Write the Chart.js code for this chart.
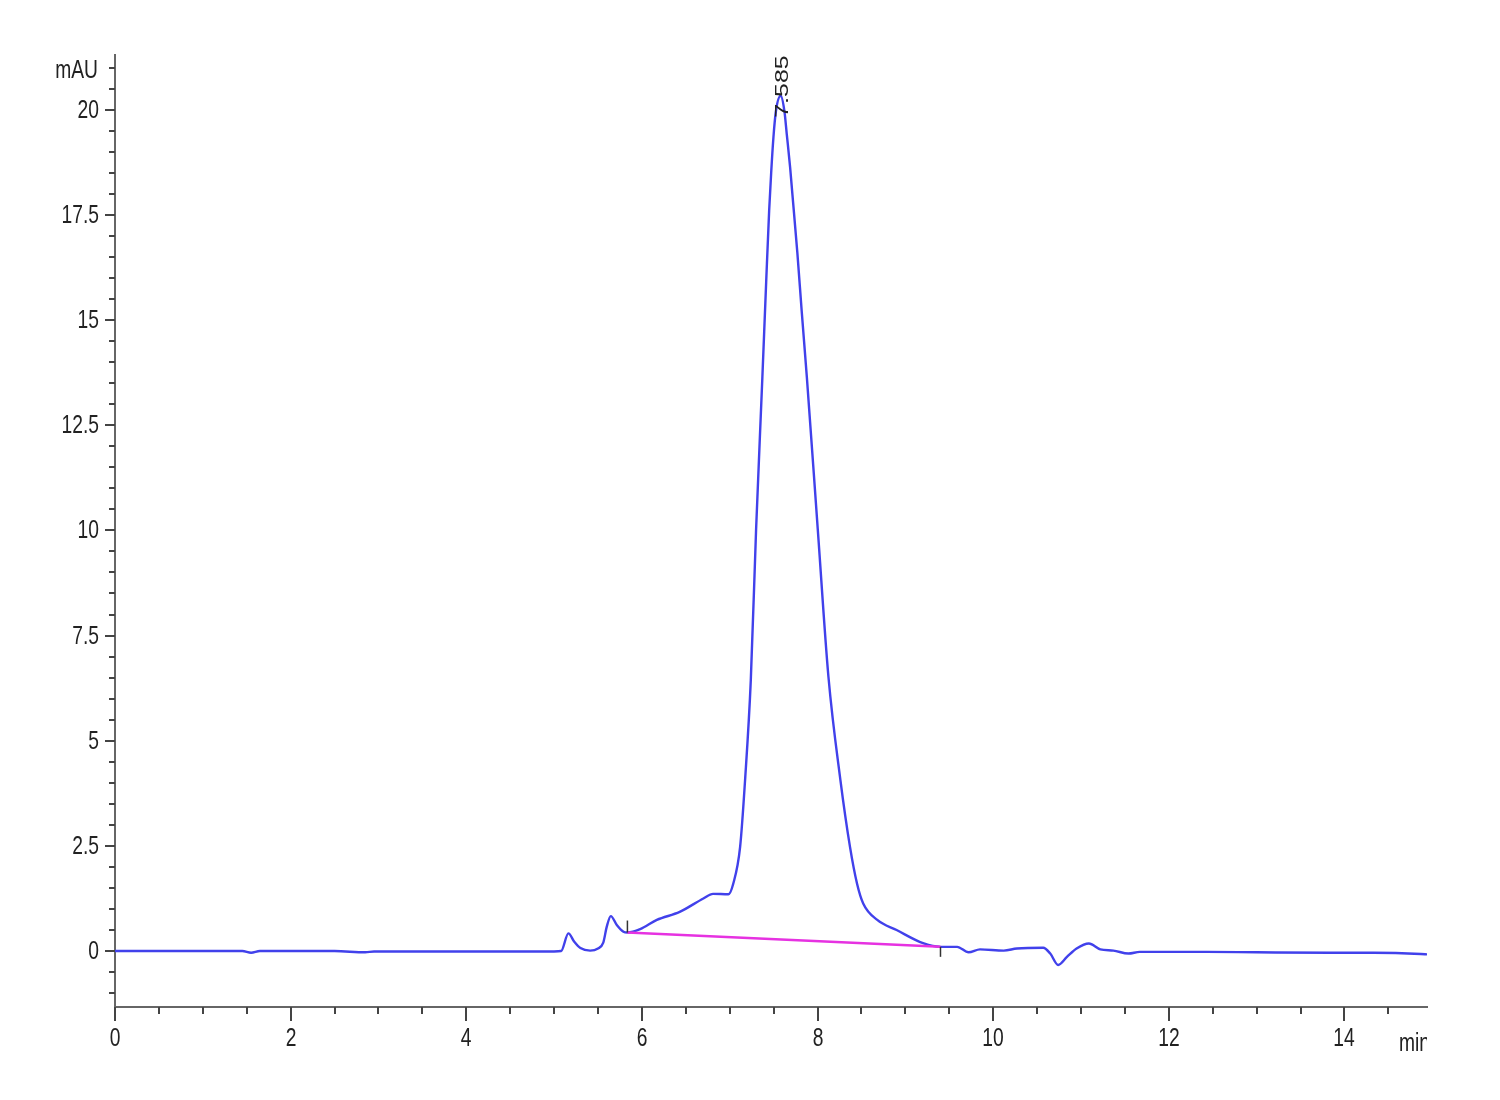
<!DOCTYPE html>
<html>
<head>
<meta charset="utf-8">
<script src="https://cdn.jsdelivr.net/npm/chart.js@4/dist/chart.umd.min.js"></script>
<style>
  body { margin: 0; background: #fff; }
  canvas { display: block; }
</style>
</head>
<body>
<canvas id="chromCanvas" width="1500" height="1100"></canvas>
<script>
// retention time (min) and absorbance (mAU)
const times = [0, 0.5, 1.0, 1.45, 1.55, 1.65, 2.0, 2.5, 2.85, 2.95, 3.5, 4.0, 4.5, 5.0, 5.08,
  5.163, 5.23, 5.30, 5.41, 5.50, 5.56, 5.60, 5.646, 5.714, 5.79, 5.835, 5.98, 6.17, 6.43,
  6.70, 6.81, 6.985, 7.04, 7.118, 7.175, 7.24, 7.30, 7.372, 7.415, 7.449, 7.472, 7.498,
  7.525, 7.58, 7.623, 7.65, 7.688, 7.714, 7.77, 7.82, 7.878, 8.003, 8.124, 8.26, 8.37,
  8.45, 8.52, 8.68, 8.90, 9.21, 9.40, 9.59, 9.72, 9.85, 10.12, 10.27, 10.57, 10.65, 10.74,
  10.84, 10.95, 11.09, 11.22, 11.37, 11.54, 11.67, 12.43, 13.0, 13.84, 14.33, 14.87, 14.94];
const signal = [0, 0, 0, 0, -0.04, 0, 0, 0, -0.03, -0.01, -0.01, -0.01, -0.01, -0.01, 0.0,
  0.42, 0.22, 0.07, 0.01, 0.06, 0.2, 0.58, 0.83, 0.62, 0.46, 0.44, 0.52, 0.74, 0.93,
  1.25, 1.36, 1.35, 1.6, 2.47, 4.07, 6.44, 10.01, 13.65, 15.9, 17.6, 18.5, 19.35,
  19.95, 20.33, 19.96, 19.41, 18.62, 17.98, 16.6, 15.2, 13.65, 10.01, 6.52, 4.07, 2.47,
  1.6, 1.13, 0.74, 0.5, 0.18, 0.10, 0.10, -0.03, 0.04, 0.01, 0.06, 0.08, -0.06, -0.33,
  -0.14, 0.06, 0.18, 0.04, 0.01, -0.06, -0.02, -0.02, -0.03, -0.04, -0.04, -0.07, -0.08];

// integration baseline under the main peak
const baseTimes = [5.835, 9.40];
const baseValues = [0.44, 0.10];

const peakTime = 7.585;
const peakHeight = 20.33;
const peakLabel = "7.585";

const yTicks = [];
for (let v = -1.0; v <= 21.0001; v += 0.5) yTicks.push(Math.round(v * 10) / 10);
const xTicks = [];
for (let v = 0; v <= 14.5001; v += 0.5) xTicks.push(Math.round(v * 10) / 10);

const FONT = "26px 'Liberation Sans', Arial, sans-serif";
const SQUEEZE = 0.74; // the original print is horizontally compressed
const TEXT_COLOR = "#222";

const traceData = times.map((t, i) => ({ x: t, y: signal[i] }));
const baseData = baseTimes.map((t, i) => ({ x: t, y: baseValues[i] }));

const isMajorY = (v) => Math.abs(v % 2.5) < 1e-6;
const isMajorX = (v) => Math.abs(v % 2) < 1e-6;

function squeezedText(ctx, text, x, y, align) {
  ctx.save();
  ctx.translate(x, y);
  ctx.scale(SQUEEZE, 1);
  ctx.textAlign = align;
  ctx.fillText(text, 0, 0);
  ctx.restore();
}

// tick marks + labels, axis titles, peak label, integration marks
const decorPlugin = {
  id: "decor",
  afterDraw(chart) {
    const ctx = chart.ctx;
    const area = chart.chartArea;
    const xs = chart.scales.x;
    const ys = chart.scales.y;
    ctx.save();
    ctx.strokeStyle = "#444";
    ctx.lineWidth = 2;
    ctx.fillStyle = TEXT_COLOR;
    ctx.font = FONT;
    ctx.textBaseline = "middle";

    ys.ticks.forEach((tk) => {
      const v = tk.value;
      const py = Math.round(ys.getPixelForValue(v));
      const len = isMajorY(v) ? 10 : 6;
      ctx.beginPath();
      ctx.moveTo(area.left - len, py);
      ctx.lineTo(area.left, py);
      ctx.stroke();
      if (isMajorY(v)) squeezedText(ctx, String(v), area.left - 16, py + 1, "right");
    });
    xs.ticks.forEach((tk) => {
      const v = tk.value;
      const px = Math.round(xs.getPixelForValue(v));
      const len = isMajorX(v) ? 14 : 7;
      ctx.beginPath();
      ctx.moveTo(px, area.bottom);
      ctx.lineTo(px, area.bottom + len);
      ctx.stroke();
      if (isMajorX(v)) squeezedText(ctx, String(v), px, area.bottom + 32, "center");
    });

    // integration start / end marks
    ctx.strokeStyle = "#333";
    ctx.lineWidth = 1.5;
    const sx = xs.getPixelForValue(baseTimes[0]);
    const sy = ys.getPixelForValue(baseValues[0]);
    ctx.beginPath();
    ctx.moveTo(sx, sy - 12);
    ctx.lineTo(sx, sy);
    ctx.stroke();
    const ex = xs.getPixelForValue(baseTimes[1]);
    const ey = ys.getPixelForValue(baseValues[1]);
    ctx.beginPath();
    ctx.moveTo(ex, ey);
    ctx.lineTo(ex, ey + 10);
    ctx.stroke();

    squeezedText(ctx, "mAU", area.left - 17, area.top + 16, "right");

    // "min" is cut off at the plot's right edge like the original
    ctx.save();
    ctx.beginPath();
    ctx.rect(0, area.bottom + 16, area.right, 60);
    ctx.clip();
    squeezedText(ctx, "min", area.right - 28, area.bottom + 37, "left");
    ctx.restore();

    // peak retention label, rotated
    const lx = xs.getPixelForValue(peakTime) + 2;
    const ly = ys.getPixelForValue(peakHeight) + 22;
    ctx.translate(lx, ly);
    ctx.scale(SQUEEZE, 1);
    ctx.rotate(-Math.PI / 2);
    ctx.font = "25px 'Liberation Sans', Arial, sans-serif";
    ctx.textAlign = "left";
    ctx.fillText(peakLabel, 0, 0);
    ctx.restore();
  },
};

new Chart(document.getElementById("chromCanvas"), {
  type: "line",
  data: {
    datasets: [
      {
        data: baseData,
        borderColor: "rgb(230, 50, 225)",
        borderWidth: 2.5,
        pointRadius: 0,
        tension: 0,
      },
      {
        data: traceData,
        borderColor: "rgb(65, 65, 235)",
        borderWidth: 2.4,
        pointRadius: 0,
        cubicInterpolationMode: "monotone",
      },
    ],
  },
  options: {
    responsive: false,
    animation: false,
    devicePixelRatio: 1,
    layout: { padding: { top: 55, right: 73, left: 0, bottom: 0 } },
    plugins: { legend: { display: false }, tooltip: { enabled: false } },
    scales: {
      x: {
        type: "linear",
        min: 0,
        max: 14.94,
        afterFit: (scale) => { scale.height = 93; },
        afterBuildTicks: (scale) => { scale.ticks = xTicks.map((v) => ({ value: v })); },
        border: { display: true, color: "#666", width: 2 },
        grid: { display: false, drawTicks: false },
        ticks: { display: false },
      },
      y: {
        type: "linear",
        min: -1.33,
        max: 21.3,
        afterFit: (scale) => { scale.width = 115; },
        afterBuildTicks: (scale) => { scale.ticks = yTicks.map((v) => ({ value: v })); },
        border: { display: true, color: "#666", width: 2 },
        grid: { display: false, drawTicks: false },
        ticks: { display: false },
      },
    },
  },
  plugins: [decorPlugin],
});
</script>
</body>
</html>
